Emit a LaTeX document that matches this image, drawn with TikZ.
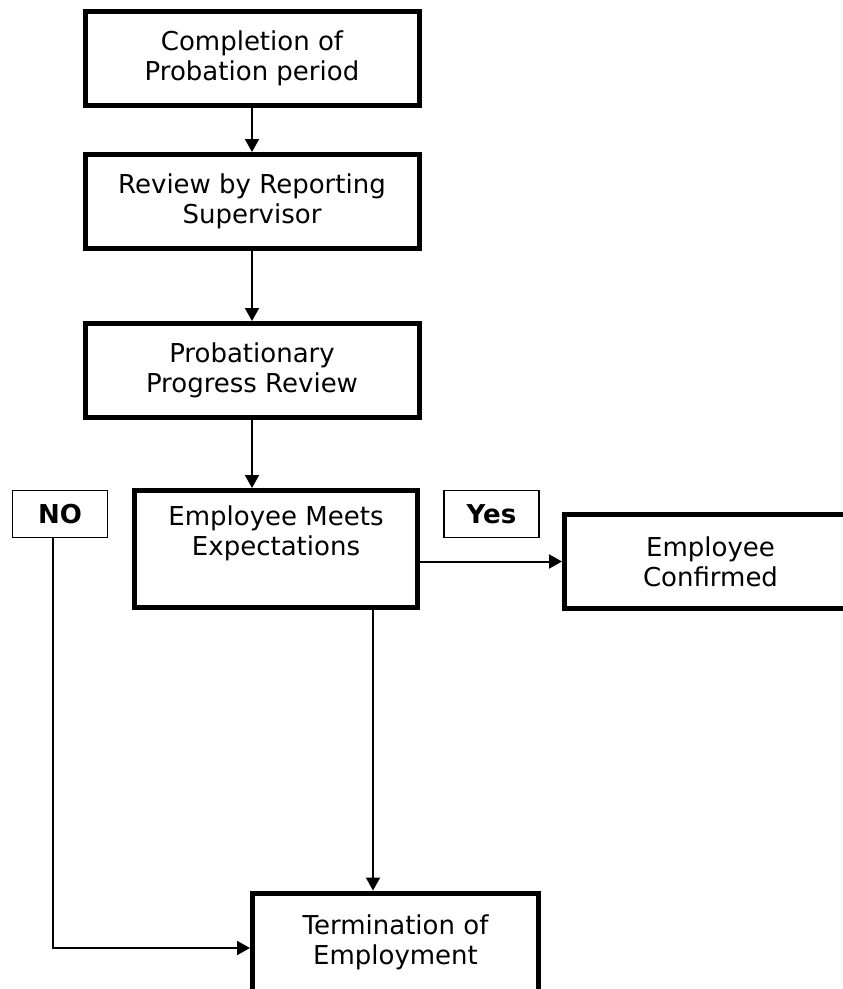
\documentclass[tikz,border=0pt]{standalone}
\usepackage{fontspec}
\setmainfont{DejaVu Sans}
\usetikzlibrary{arrows.meta,shadows}

\begin{document}
\begin{tikzpicture}[x=1pt, y=-1pt, >={Triangle[length=13pt,width=14pt]},
  stage/.style={draw, line width=5pt, fill=white, align=center, inner sep=0pt,
    font=\fontsize{26}{30}\selectfont,
    drop shadow={shadow xshift=2pt, shadow yshift=-2pt, fill=black, opacity=1}},
  answer/.style={draw, line width=1.3pt, inner sep=0pt, minimum width=95pt,
    minimum height=47pt, font=\bfseries\fontsize{26}{30}\selectfont},
  flow/.style={->, line width=2pt}]
\useasboundingbox (0,0) rectangle (843,989);
\node (complete) at (252,58.5) [stage, minimum width=334pt, minimum height=94pt] {Completion of\\Probation period};
\node (review) at (252,201.5) [stage, minimum width=334pt, minimum height=94pt] {Review by Reporting\\Supervisor};
\node (progress) at (252,370.5) [stage, minimum width=334pt, minimum height=94pt] {Probationary\\Progress Review};
\node (meets) at (276,549) [stage, minimum width=283pt, minimum height=117pt,
  label={[anchor=north, yshift=-14pt, align=center, font=\fontsize{26}{30}\selectfont]north:Employee Meets\\Expectations}] {};
\node (confirmed) at (710.5,561.5) [stage, minimum width=292pt, minimum height=94pt] {Employee\\Confirmed};
\node (term) at (395.5,942.5) [stage, minimum width=286pt, minimum height=99pt] {Termination of\\Employment};
\node (no) at (60,514) [answer] {NO};
\node (yes) at (491.5,514) [answer] {Yes};
\coordinate (split) at (373,0);
\coordinate (nocorner) at (53,948);
\draw[flow] (complete) -- (review);
\draw[flow] (review) -- (progress);
\draw[flow] (progress) -- (progress |- meets.north);
\draw[flow] (meets.east |- confirmed.west) -- (confirmed.west);
\draw[flow] (meets.south -| split) -- (term.north -| split);
\draw[flow] (no.south -| nocorner) -- (nocorner) -- (term.west |- nocorner);
\end{tikzpicture}
\end{document}
